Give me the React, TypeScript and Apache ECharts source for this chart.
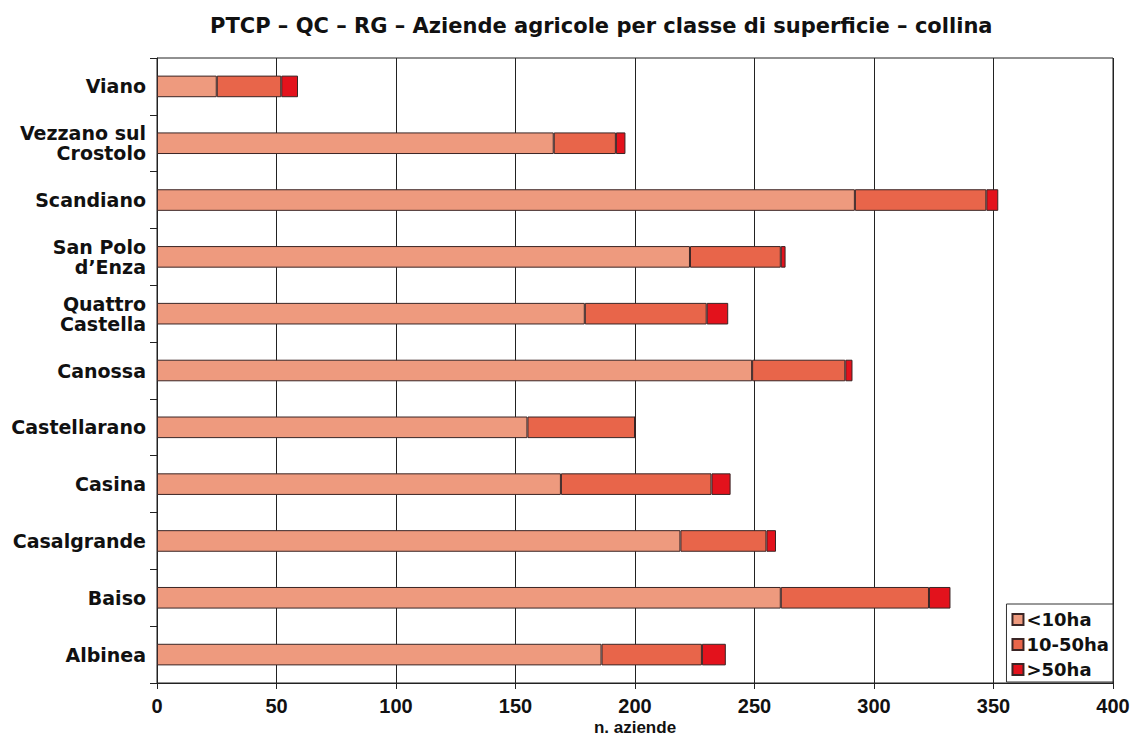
import React, { useEffect, useRef } from "react";
import * as echarts from "echarts";

const categories = [
  "Albinea",
  "Baiso",
  "Casalgrande",
  "Casina",
  "Castellarano",
  "Canossa",
  "Quattro\nCastella",
  "San Polo\nd’Enza",
  "Scandiano",
  "Vezzano sul\nCrostolo",
  "Viano",
];
const seriesNames = ["<10ha", "10-50ha", ">50ha"];
const small = [186, 261, 219, 169, 155, 249, 179, 223, 292, 166, 25];
const medium = [42, 62, 36, 63, 45, 39, 51, 38, 55, 26, 27];
const large = [10, 9, 4, 8, 0, 3, 9, 2, 5, 4, 7];
const colors = ["#EE9A7E", "#E8654A", "#E3121C"];
const xTicks = [0, 50, 100, 150, 200, 250, 300, 350, 400];

const WIDE = "DejaVu Sans, Liberation Sans, Arial, sans-serif";
const ARIAL = "Liberation Sans, Arial, sans-serif";

export default function App() {
  const ref = useRef<HTMLDivElement>(null);
  useEffect(() => {
    if (!ref.current) return;
    const chart = echarts.init(ref.current, null, { renderer: "svg" });
    const data = [small, medium, large];
    chart.setOption({
      animation: false,
      backgroundColor: "#fff",
      title: {
        text: "PTCP – QC – RG – Aziende agricole per classe di superficie – collina",
        left: 205,
        top: 10,
        textStyle: {
          fontFamily: WIDE,
          fontWeight: "bold",
          fontSize: 21,
          color: "#111",
        },
      },
      legend: {
        orient: "vertical",
        right: 24,
        bottom: 55,
        data: seriesNames,
        backgroundColor: "#fff",
        borderColor: "#333",
        borderWidth: 1,
        borderRadius: 0,
        padding: [5, 4, 2, 5],
        itemWidth: 11,
        itemHeight: 11,
        itemGap: 4,
        icon: "rect",
        textStyle: {
          fontFamily: WIDE,
          fontWeight: "bold",
          fontSize: 18,
          lineHeight: 21,
          color: "#111",
          padding: [0, 0, 0, -2],
        },
      },
      grid: {
        left: 157,
        right: 24,
        top: 58,
        bottom: 54,
        outerBoundsMode: "none",
        containLabel: false,
        show: true,
        borderColor: "#222",
        borderWidth: 1,
        backgroundColor: "transparent",
      },
      xAxis: {
        type: "value",
        min: xTicks[0],
        max: xTicks[xTicks.length - 1],
        interval: 50,
        name: "n. aziende",
        nameLocation: "middle",
        nameGap: 36,
        nameMoveOverlap: false,
        nameTextStyle: {
          fontFamily: ARIAL,
          fontWeight: "bold",
          fontSize: 17,
          lineHeight: 16,
          color: "#111",
        },
        axisLine: { show: true, lineStyle: { color: "#222", width: 1 } },
        axisTick: { show: true, length: 6, lineStyle: { color: "#222" } },
        axisLabel: {
          margin: 15,
          fontFamily: ARIAL,
          fontWeight: "bold",
          fontSize: 20,
          lineHeight: 16,
          color: "#111",
        },
        splitLine: { show: true, lineStyle: { color: "#222", width: 1 } },
      },
      yAxis: {
        type: "category",
        data: categories,
        axisLine: { show: true, lineStyle: { color: "#222" } },
        axisTick: { show: true, length: 7, lineStyle: { color: "#222" } },
        axisLabel: {
          margin: 11,
          fontFamily: WIDE,
          fontWeight: "bold",
          fontSize: 19,
          lineHeight: 20,
          color: "#111",
          align: "right",
        },
        splitLine: { show: false },
      },
      series: seriesNames.map((name, i) => ({
        name,
        type: "bar",
        stack: "total",
        barWidth: "38%",
        data: data[i],
        itemStyle: {
          color: colors[i],
          borderColor: "#3a2525",
          borderWidth: 1,
        },
      })),
    });
    return () => chart.dispose();
  }, []);
  return (
    <div
      ref={ref}
      style={{ position: "fixed", left: 0, top: 0, width: 1137, height: 737 }}
    />
  );
}
